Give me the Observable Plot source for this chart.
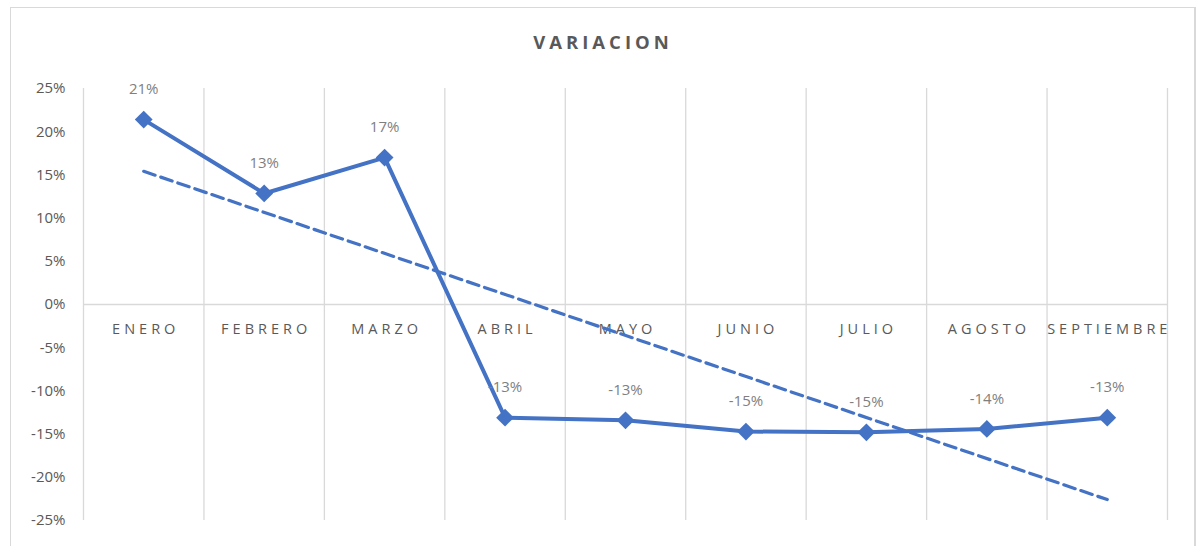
<!DOCTYPE html>
<html>
<head>
<meta charset="utf-8">
<script src="https://cdn.jsdelivr.net/npm/d3@7"></script>
<script src="https://cdn.jsdelivr.net/npm/@observablehq/plot@0.6"></script>
<style>
  html, body { margin: 0; padding: 0; background: #fff; }
  #wrap { position: relative; width: 1202px; height: 546px; overflow: hidden; background: #fff; }
  #frame { position: absolute; left: 10px; top: 7px; width: 1186px; height: 560px; border: 1px solid #d9d9d9; border-right-width: 2px; box-sizing: border-box; }
  #title { position: absolute; left: 0; width: 1202px; top: 30px; text-align: center; font-family: "Open Sans", sans-serif; font-weight: bold; font-size: 18.5px; letter-spacing: 4px; color: #595959; line-height: 24px; padding-left: 4px; box-sizing: border-box; }
  #chart { position: absolute; left: 0; top: 0; }
</style>
</head>
<body>
<div id="wrap">
  <div id="frame"></div>
  <div id="chart"></div>
  <div id="title">VARIACION</div>
</div>
<script>
const months = ["ENERO", "FEBRERO", "MARZO", "ABRIL", "MAYO", "JUNIO", "JULIO", "AGOSTO", "SEPTIEMBRE"];
const variacion = [21.4, 12.85, 17.0, -13.1, -13.4, -14.7, -14.8, -14.4, -13.1];
const yTicks = [25, 20, 15, 10, 5, 0, -5, -10, -15, -20, -25];

const data = months.map((m, i) => ({ i, month: m, v: variacion[i] }));
const edges = d3.range(months.length + 1).map(k => k - 0.5);
const blue = "#4472C4";

const plot = Plot.plot({
  width: 1202,
  height: 546,
  marginLeft: 83,
  marginRight: 35,
  marginTop: 88,
  marginBottom: 26,
  style: { fontFamily: "'Open Sans', sans-serif", fontSize: "15px", color: "#595959", background: "transparent" },
  x: { type: "linear", domain: [-0.5, months.length - 0.5], axis: null },
  y: { domain: [-25, 25], label: null },
  marks: [
    Plot.ruleX(edges, { x: d => d, y1: -25, y2: 25, stroke: "#d9d9d9", strokeWidth: 1.3, strokeOpacity: 1 }),
    Plot.ruleY([0], { stroke: "#d9d9d9", strokeWidth: 1.3, strokeOpacity: 1 }),
    Plot.axisY({ ticks: yTicks, tickFormat: d => `${d}%`, tickSize: 0, tickPadding: 18, fill: "#595959", fontSize: 15, label: null }),
    Plot.text(data, { x: "i", y: () => 0, dy: 25, dx: 2, text: "month", fill: "#595959", fontSize: 14.5 }),
    Plot.linearRegressionY(data, { x: "i", y: "v", ci: 0, stroke: blue, strokeWidth: 3.2, strokeDasharray: "12,6" }),
    Plot.line(data, { x: "i", y: "v", stroke: blue, strokeWidth: 4, strokeLinejoin: "round" }),
    Plot.dot(data, { x: "i", y: "v", symbol: "diamond2", r: 8, fill: blue, stroke: "none" }),
    Plot.text(data, { x: "i", y: "v", dy: -30, text: d => `${Math.round(d.v)}%`, fill: "#7f7f7f", fontSize: 15 })
  ]
});

d3.select(plot).selectAll("text")
  .filter(function () { return months.includes(this.textContent); })
  .style("letter-spacing", "4px");
document.getElementById("chart").appendChild(plot);
</script>
</body>
</html>
